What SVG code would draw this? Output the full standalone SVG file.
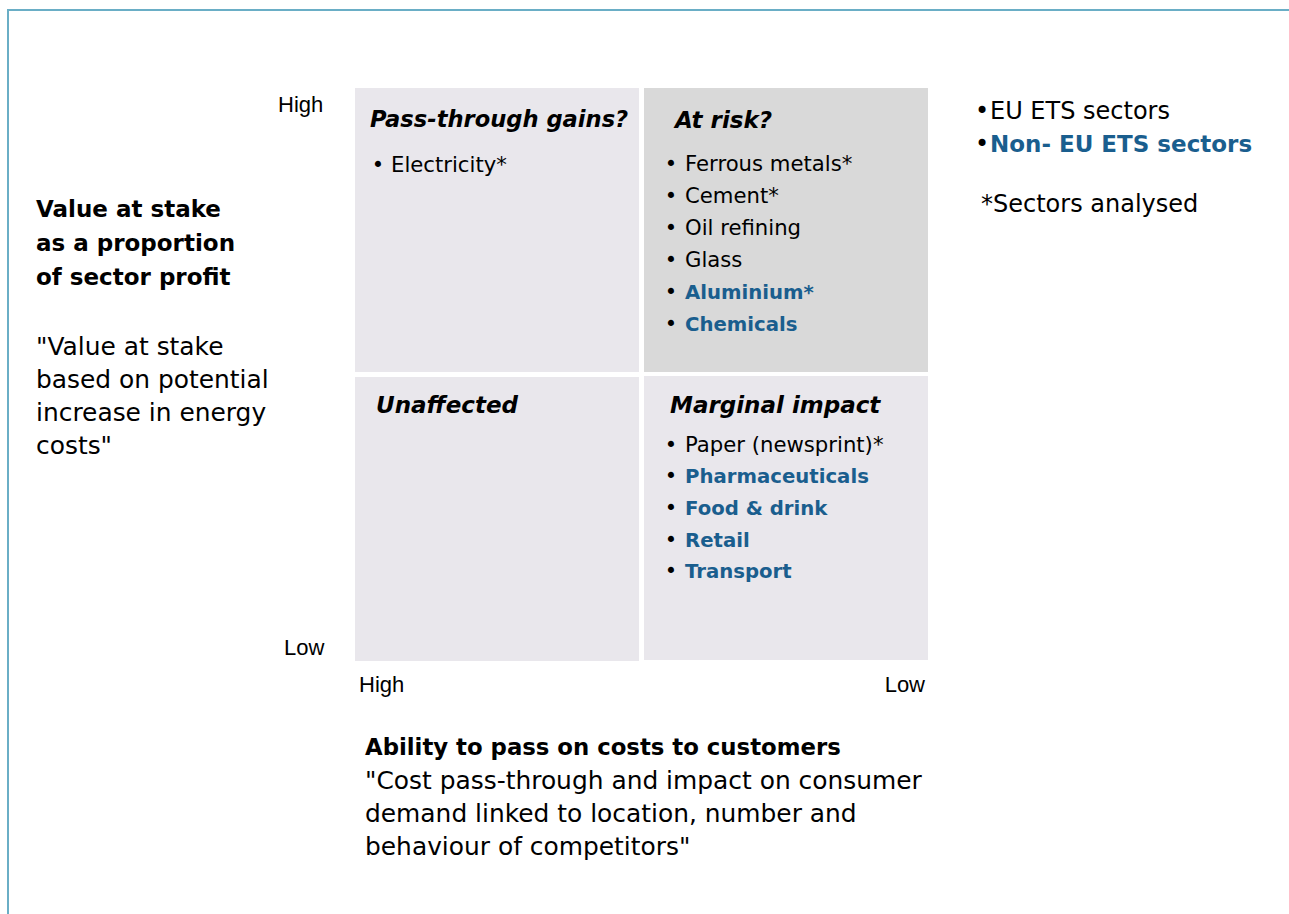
<svg xmlns="http://www.w3.org/2000/svg" width="1289" height="914" viewBox="0 0 1289 914">
  <style>
    .frame { fill: none; stroke: #6aaec6; stroke-width: 2; }
    .cell { fill: #e9e7ec; }
    .cell-risk { fill: #d9d9d9; }
    text { font-family: "DejaVu Sans", Verdana, sans-serif; fill: #000; }
    .head { font-weight: bold; font-style: italic; font-size: 23px; }
    .item { font-size: 21.2px; }
    .bul { font-size: 21px; text-anchor: middle; }
    .blue { fill: #1a5e8e; font-weight: bold; }
    .item.blue { font-size: 19.7px; }
    .axis { font-family: "Liberation Sans", Arial, sans-serif; font-size: 22px; }
    .lbl-b { font-weight: bold; font-size: 23px; }
    .lbl { font-size: 24.9px; }
    .leg { font-size: 24px; }
    .leg.blue { font-size: 23px; }
  </style>

  <!-- outer frame, running off the right and bottom edges -->
  <rect class="frame" x="8" y="10" width="1400" height="1000"/>

  <!-- vertical axis: value at stake -->
  <g id="y-axis">
    <text class="axis" x="278" y="112">High</text>
    <text class="axis" x="284" y="655">Low</text>
    <text class="lbl-b" x="36" y="217">Value at stake</text>
    <text class="lbl-b" x="36" y="251">as a proportion</text>
    <text class="lbl-b" x="36" y="285">of sector profit</text>
    <text class="lbl" x="36" y="355">"Value at stake</text>
    <text class="lbl" x="36" y="388">based on potential</text>
    <text class="lbl" x="36" y="421">increase in energy</text>
    <text class="lbl" x="36" y="454">costs"</text>
  </g>

  <!-- horizontal axis: ability to pass on costs -->
  <g id="x-axis">
    <text class="axis" x="359" y="692">High</text>
    <text class="axis" x="925" y="692" text-anchor="end">Low</text>
    <text class="lbl-b" x="365" y="755" style="font-size:22.8px">Ability to pass on costs to customers</text>
    <text class="lbl" x="365" y="789">"Cost pass-through and impact on consumer</text>
    <text class="lbl" x="365" y="822">demand linked to location, number and</text>
    <text class="lbl" x="365" y="855">behaviour of competitors"</text>
  </g>

  <!-- top-left quadrant -->
  <g id="pass-through-gains">
    <rect class="cell" x="355" y="88" width="284" height="284"/>
    <text class="head" x="370" y="127" style="font-size:22.6px">Pass-through gains?</text>
    <text class="bul" x="378" y="172">•</text>
    <text class="item" x="391" y="172">Electricity*</text>
  </g>

  <!-- top-right quadrant -->
  <g id="at-risk">
    <rect class="cell-risk" x="644" y="88" width="284" height="284"/>
    <text class="head" x="675" y="128">At risk?</text>
    <text class="bul" x="671" y="171">•</text>
    <text class="item" x="685" y="171">Ferrous metals*</text>
    <text class="bul" x="671" y="203">•</text>
    <text class="item" x="685" y="203">Cement*</text>
    <text class="bul" x="671" y="235">•</text>
    <text class="item" x="685" y="235">Oil refining</text>
    <text class="bul" x="671" y="267">•</text>
    <text class="item" x="685" y="267">Glass</text>
    <text class="bul" x="671" y="299">•</text>
    <text class="item blue" x="685" y="299">Aluminium*</text>
    <text class="bul" x="671" y="331">•</text>
    <text class="item blue" x="685" y="331">Chemicals</text>
  </g>

  <!-- bottom-left quadrant -->
  <g id="unaffected">
    <rect class="cell" x="355" y="377" width="284" height="284"/>
    <text class="head" x="376" y="413">Unaffected</text>
  </g>

  <!-- bottom-right quadrant -->
  <g id="marginal-impact">
    <rect class="cell" x="644" y="376" width="284" height="284"/>
    <text class="head" x="670" y="413">Marginal impact</text>
    <text class="bul" x="671" y="452">•</text>
    <text class="item" x="685" y="452">Paper (newsprint)*</text>
    <text class="bul" x="671" y="483">•</text>
    <text class="item blue" x="685" y="483">Pharmaceuticals</text>
    <text class="bul" x="671" y="515">•</text>
    <text class="item blue" x="685" y="515">Food &amp; drink</text>
    <text class="bul" x="671" y="547">•</text>
    <text class="item blue" x="685" y="547">Retail</text>
    <text class="bul" x="671" y="578">•</text>
    <text class="item blue" x="685" y="578">Transport</text>
  </g>

  <!-- key -->
  <g id="legend">
    <text class="leg" x="982" y="119" text-anchor="middle">•</text>
    <text class="leg" x="990" y="119">EU ETS sectors</text>
    <text class="leg" x="982" y="152" text-anchor="middle">•</text>
    <text class="leg blue" x="990" y="152">Non- EU ETS sectors</text>
    <text class="leg" x="981" y="212">*Sectors analysed</text>
  </g>
</svg>
